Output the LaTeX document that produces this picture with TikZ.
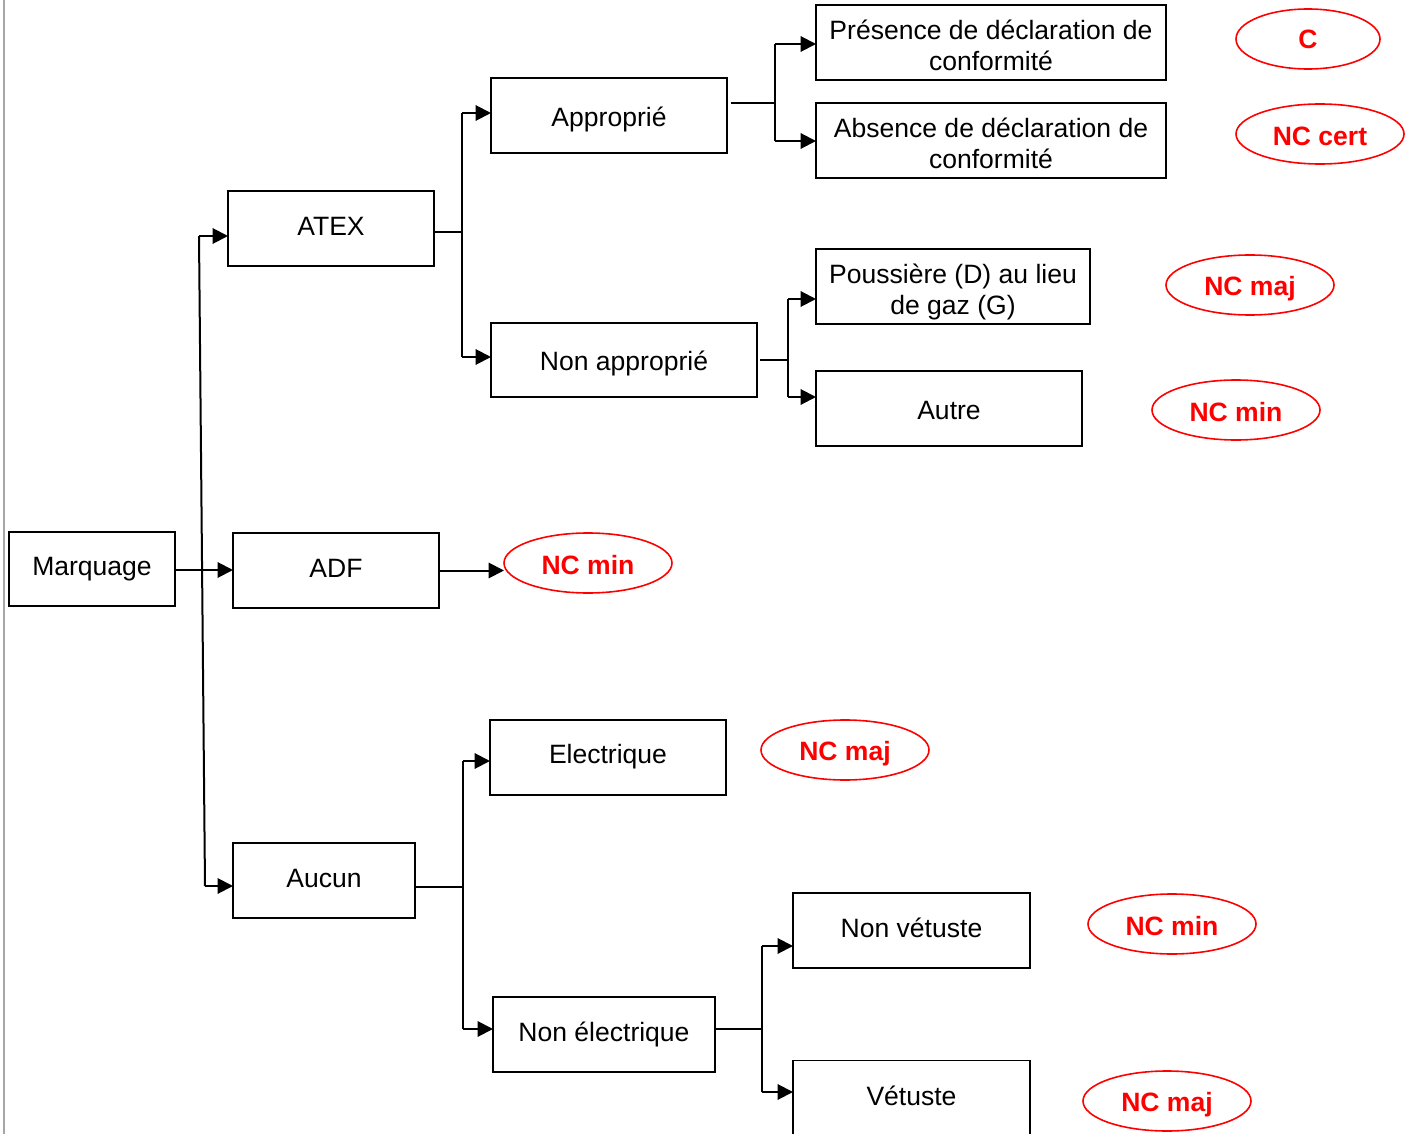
\documentclass[tikz,border=0pt]{standalone}
\usepackage{fontspec}
\setmainfont{Liberation Sans}
\usetikzlibrary{arrows.meta,calc,shapes.geometric}
% lower a text by #1 (in px of the reference) without changing its box
\newcommand\tdown[2]{\raisebox{-#1\dimexpr 0.75pt\relax}[\height][\depth]{#2}}
\newcommand\twolines[2]{\begin{tabular}{@{}c@{}}#1\\#2\end{tabular}}
\begin{document}
\begin{tikzpicture}[x=0.75pt,y=-0.75pt,
  every node/.style={font=\fontsize{19.9}{23.4}\selectfont},
  box/.style={draw,line width=1.2pt,rectangle,inner sep=0pt,outer sep=0pt,align=center},
  verdict/.style={draw=red,line width=1.2pt,ellipse,inner sep=0pt,outer sep=0pt,text=red,font=\fontsize{19.9}{23}\selectfont\bfseries,minimum width=168*0.75pt,minimum height=60*0.75pt},
  conn/.style={line width=1.5pt},
  arr/.style={line width=1.5pt,-{Triangle[length=11.5pt,width=11.5pt]}}]
\useasboundingbox (0,0) rectangle (1414,1134);
\fill[white] (0,0) rectangle (1414,1134);
\draw[line width=2.2pt,gray!70] (4,0) -- (4,1134);

% boxes
\node[box,minimum width=166*0.75pt,minimum height=74*0.75pt] (marq) at (92,569) {Marquage};
\node[box,minimum width=206*0.75pt,minimum height=75*0.75pt] (atex) at (331,228.5) {\tdown{-2}{ATEX}};
\node[box,minimum width=206*0.75pt,minimum height=75*0.75pt] (adf) at (336,570.5) {\tdown{-2}{ADF}};
\node[box,minimum width=182*0.75pt,minimum height=75*0.75pt] (aucun) at (324,880.5) {\tdown{-2}{Aucun}};
\node[box,minimum width=236*0.75pt,minimum height=75*0.75pt] (appr) at (609,115.5) {\tdown{4}{Approprié}};
\node[box,minimum width=266*0.75pt,minimum height=74*0.75pt] (nappr) at (624,360) {\tdown{3}{Non approprié}};
\node[box,minimum width=350*0.75pt,minimum height=75*0.75pt] (pres) at (991,42.5) {\tdown{6.5}{\twolines{Présence de déclaration de}{conformité}}};
\node[box,minimum width=350*0.75pt,minimum height=75*0.75pt] (abs) at (991,140.5) {\tdown{6.5}{\twolines{Absence de déclaration de}{conformité}}};
\node[box,minimum width=274*0.75pt,minimum height=75*0.75pt] (pouss) at (953,286.5) {\tdown{6}{\twolines{Poussière (D) au lieu}{de gaz (G)}}};
\node[box,minimum width=266*0.75pt,minimum height=75*0.75pt] (autre) at (949,408.5) {\tdown{2}{Autre}};
\node[box,minimum width=236*0.75pt,minimum height=75*0.75pt] (elec) at (608,757.5) {\tdown{-1}{Electrique}};
\node[box,minimum width=222*0.75pt,minimum height=75*0.75pt] (nelec) at (604,1034.5) {Non électrique};
\node[box,minimum width=237*0.75pt,minimum height=75*0.75pt] (nvet) at (911.5,930.5) {\tdown{-3}{Non vétuste}};
\node[box,minimum width=237*0.75pt,minimum height=75*0.75pt] (vet) at (911.5,1098) {\tdown{-2}{Vétuste}};

% verdicts
\node[verdict,minimum width=144*0.75pt] (vC) at (1308,39) {C};
\node[verdict] (vcert) at (1320,134) {\tdown{2}{NC cert}};
\node[verdict] (vpouss) at (1250,285) {\tdown{4}{NC maj}};
\node[verdict] (vautre) at (1236,410) {\tdown{2}{NC min}};
\node[verdict] (vadf) at (588,563) {\tdown{2}{NC min}};
\node[verdict] (velec) at (845,750) {\tdown{4}{NC maj}};
\node[verdict] (vnvet) at (1172,924) {\tdown{2}{NC min}};
\node[verdict] (vvet) at (1167,1101) {\tdown{4}{NC maj}};

% junction coordinates
\coordinate (m1) at (199,236);
\coordinate (m2) at (205,886);
\coordinate (ja) at (462,232);
\coordinate (a1) at (462,113);
\coordinate (a2) at (462,357);
\coordinate (b0) at (775,103);
\coordinate (b1) at (775,44);
\coordinate (b2) at (775,141);
\coordinate (c0) at (788,360);
\coordinate (c1) at (788,299);
\coordinate (c2) at (788,397);
\coordinate (d0) at (463,887);
\coordinate (d1) at (463,761);
\coordinate (d2) at (463,1029);
\coordinate (e0) at (762,1029);
\coordinate (e1) at (762,946);
\coordinate (e2) at (762,1092);

% Marquage
\draw[arr] ($(marq.east)+(0,1)$) -- (adf.west |- {$(marq.east)+(0,1)$});
\draw[conn] (m1) -- (m2);
\draw[arr] (m1) -- ($(atex.west)+(0,7.5)$);
\draw[arr] (m2) -- ($(aucun.west)+(0,5.5)$);

% ATEX
\draw[conn] ($(atex.east)+(0,3.5)$) -- (ja);
\draw[conn] (a1) -- (a2);
\draw[arr] (a1) -- ($(appr.west)+(0,-2.5)$);
\draw[arr] (a2) -- ($(nappr.west)+(0,-3)$);

% Approprie
\draw[conn] ($(appr.east)+(4,-12.5)$) -- (b0);
\draw[conn] (b1) -- (b2);
\draw[arr] (b1) -- ($(pres.west)+(0,1.5)$);
\draw[arr] (b2) -- ($(abs.west)+(0,0.5)$);

% Non approprie
\draw[conn] ($(nappr.east)+(3,0)$) -- (c0);
\draw[conn] (c1) -- (c2);
\draw[arr] (c1) -- ($(pouss.west)+(0,12.5)$);
\draw[arr] (c2) -- ($(autre.west)+(0,-11.5)$);

% ADF
\draw[arr] (adf.east) -- (vadf.west |- adf.east);

% Aucun
\draw[conn] ($(aucun.east)+(0,6.5)$) -- (d0);
\draw[conn] (d1) -- (d2);
\draw[arr] (d1) -- ($(elec.west)+(0,3.5)$);
\draw[arr] (d2) -- ($(nelec.west)+(0,-5.5)$);

% Non electrique
\draw[conn] ($(nelec.east)+(0,-5.5)$) -- (e0);
\draw[conn] (e1) -- (e2);
\draw[arr] (e1) -- ($(nvet.west)+(0,15.5)$);
\draw[arr] (e2) -- ($(vet.west)+(0,-6)$);
\end{tikzpicture}
\end{document}
